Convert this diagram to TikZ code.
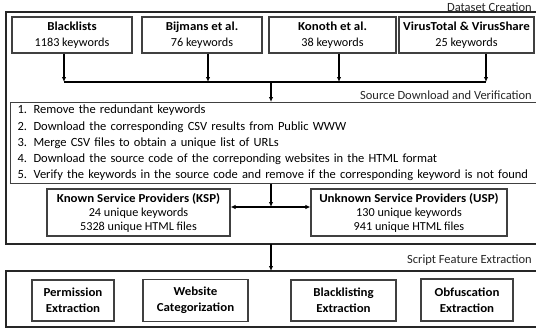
\documentclass[tikz,border=0pt]{standalone}
\usepackage{fontspec}
\setmainfont{Carlito}[BoldFeatures={FakeStretch=1.06}]
\usetikzlibrary{arrows.meta}
\begin{document}
\begin{tikzpicture}[x=1pt,y=-1pt,
  box/.style={draw=black!75, line width=1.1pt, align=center, inner sep=0pt, font=\fontsize{12.2}{16}\selectfont},
  outer/.style={draw=black!85, line width=1.3pt},
  lbl/.style={anchor=east, inner sep=0pt, font=\fontsize{12.5}{14}\selectfont, text=black!85},
  arr/.style={line width=1.3pt, -{Latex[length=5pt,width=4.5pt]}},
  ln/.style={line width=1.3pt}]
\useasboundingbox (0,0) rectangle (536,332);
% outer boxes
\draw[outer] (546,12) -- (6,12) -- (6,244) -- (546,244);
\draw[outer] (546,271) -- (6,271) -- (6,327) -- (546,327);
\node[lbl] (t1) at (532,7) {Dataset Creation};
\node[lbl] (t2) at (532,95) {Source Download and Verification};
\node[lbl] (t3) at (532,260) {Script Feature Extraction};
% top boxes
\node[box, minimum width=120, minimum height=36] (bl) at (72,35) {\textbf{Blacklists}\\1183 keywords};
\node[box, minimum width=120, minimum height=36] (bj) at (202,35) {\textbf{Bijmans et al.}\\76 keywords};
\node[box, minimum width=127, minimum height=36] (ko) at (332.5,35) {\textbf{Konoth et al.}\\38 keywords};
\node[box, minimum width=135, minimum height=36] (vt) at (466.5,35) {\textbf{VirusTotal \& VirusShare}\\25 keywords};
% junction
\coordinate (j1) at (64,82);
\coordinate (j2) at (208,82);
\coordinate (j3) at (339,82);
\coordinate (j4) at (486,82);
\coordinate (jc) at (271,82);
\draw[arr] (bl.south -| j1) -- (j1);
\draw[arr] (bj.south -| j2) -- (j2);
\draw[arr] (ko.south -| j3) -- (j3);
\draw[arr] (vt.south -| j4) -- (j4);
\draw[ln] (j1) -- (j4);
% list box
\node[box, anchor=north west, minimum width=521, minimum height=81, align=left, text width=512, inner xsep=7pt, font=\fontsize{12.5}{16.2}\selectfont] (li) at (10,102)
 {\makebox[16pt][l]{1.}Remove the redundant keywords\\
  \makebox[16pt][l]{2.}Download the corresponding CSV results from Public WWW\\
  \makebox[16pt][l]{3.}Merge CSV files to obtain a unique list of URLs\\
  \makebox[16pt][l]{4.}Download the source code of the correponding websites in the HTML format\\
  \makebox[16pt][l]{5.}Verify the keywords in the source code and remove if the corresponding keyword is not found};
\draw[arr] (jc) -- (li.north -| jc);
% KSP / USP
\node[box, minimum width=183, minimum height=47, font=\fontsize{12.2}{14}\selectfont] (ksp) at (138.5,212.5) {\textbf{Known Service Providers (KSP)}\\24 unique keywords\\5328 unique HTML files};
\node[box, minimum width=196, minimum height=47, font=\fontsize{12.2}{14}\selectfont] (usp) at (409,212.5) {\textbf{Unknown Service Providers (USP)}\\130 unique keywords\\941 unique HTML files};
\coordinate (m) at (271,207);
\draw[arr] (li.south -| m) -- (m);
\draw[ln, {Latex[length=5pt,width=4.5pt]}-{Latex[length=5pt,width=4.5pt]}] (ksp.east |- m) -- (usp.west |- m);
% down arrow
\coordinate (d1) at (271,244);
\coordinate (d2) at (271,271);
\draw[arr] (d1) -- (d2);
% bottom boxes
\node[box, minimum width=82, minimum height=41] (pe) at (73,300.5) {\textbf{Permission}\\\textbf{Extraction}};
\node[box, minimum width=105, minimum height=42] (wc) at (195.5,300.5) {\textbf{Website}\\\textbf{Categorization}};
\node[box, minimum width=105, minimum height=41] (be) at (343.5,300.5) {\textbf{Blacklisting}\\\textbf{Extraction}};
\node[box, minimum width=92, minimum height=42] (oe) at (467,300) {\textbf{Obfuscation}\\\textbf{Extraction}};
\end{tikzpicture}
\end{document}
